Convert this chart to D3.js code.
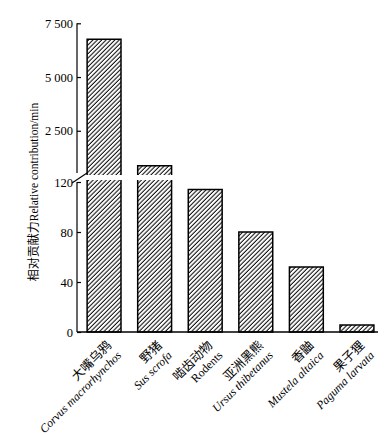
<!DOCTYPE html>
<html>
<head>
<meta charset="utf-8">
<script src="https://cdn.jsdelivr.net/npm/d3@7"></script>
<style>
  html, body { margin: 0; padding: 0; background: #fff; }
  svg { display: block; }
</style>
</head>
<body>
<div id="chart"></div>
<script>
// Données
const speciesCn = ["大嘴乌鸦", "野猪", "啮齿动物", "亚洲黑熊", "香鼬", "果子狸"];
const speciesLatin = ["Corvus macrorhynchos", "Sus scrofa", "Rodents", "Ursus thibetanus", "Mustela altaica", "Paguma larvata"];
const latinItalic = [true, true, false, true, true, true];
const contribution = [6760, 875, 114, 80, 52, 5.6];
const ticksLow = [0, 40, 80, 120];
const ticksHigh = [2500, 5000, 7500];

const width = 390;
const height = 435;
const serif = "'Liberation Serif', 'Times New Roman', serif";
const cjk = "'Noto Sans CJK SC', sans-serif";

const axisX = 77;
const breakTop = 175;     // bas du segment haut
const breakBottom = 180;  // haut du segment bas
const baseY = 332;

const svg = d3.select("#chart")
  .append("svg")
  .attr("width", width)
  .attr("height", height);

// motif hachuré
svg.append("defs")
  .append("pattern")
  .attr("id", "hatch")
  .attr("patternUnits", "userSpaceOnUse")
  .attr("width", 3.1)
  .attr("height", 10)
  .attr("patternTransform", "rotate(45)")
  .append("line")
  .attr("x1", 1).attr("y1", 0)
  .attr("x2", 1).attr("y2", 10)
  .attr("stroke", "#000")
  .attr("stroke-width", 1);

//---------------------------------------------------------------------------------------

// Échelles

const scaleX = d3.scaleBand()
  .domain(d3.range(speciesCn.length))
  .range([axisX, 384])
  .paddingInner(0.33)
  .paddingOuter(0.2);

// segment bas (0 - 120)
const yLow = d3.scaleLinear().domain([0, 120]).range([baseY, 182]);
// segment haut (jusqu'à 7 500)
const yHigh = d3.scaleLinear().domain([0, 7500]).range([184.5, 23.3]);

const fmt = d => d3.format(",")(d).replace(",", " ");

//---------------------------------------------------------------------------------------

// Axes Y

const axisLow = svg.append("g")
  .attr("transform", `translate(${axisX},0)`)
  .call(d3.axisLeft(yLow).tickValues(ticksLow).tickSize(-4).tickPadding(4).tickFormat(fmt));
axisLow.select(".domain").attr("d", `M0,${breakBottom + 2}V${baseY}`);

const axisHigh = svg.append("g")
  .attr("transform", `translate(${axisX},0)`)
  .call(d3.axisLeft(yHigh).tickValues(ticksHigh).tickSize(-4).tickPadding(4).tickFormat(fmt));
axisHigh.select(".domain").attr("d", `M0,${yHigh(7500)}V${breakTop - 2}`);

svg.selectAll(".tick text")
  .attr("font-family", serif)
  .attr("font-size", 12.5)
  .attr("fill", "#000");
svg.selectAll(".tick line, .domain")
  .attr("stroke", "#000")
  .attr("stroke-width", 1.2);

// marque de coupure
svg.append("line")
  .attr("x1", axisX - 5).attr("y1", breakBottom + 3)
  .attr("x2", axisX + 10).attr("y2", breakTop - 2)
  .attr("stroke", "#000")
  .attr("stroke-width", 1.2);

//---------------------------------------------------------------------------------------

// Barres

const bw = scaleX.bandwidth();
const bars = svg.append("g");

contribution.forEach((v, i) => {
  const x = scaleX(i);
  if (v > 120) {
    // partie haute
    bars.append("rect")
      .attr("x", x).attr("y", yHigh(v))
      .attr("width", bw).attr("height", breakTop - yHigh(v))
      .attr("fill", "url(#hatch)");
    bars.append("path")
      .attr("d", `M${x},${breakTop}V${yHigh(v)}H${x + bw}V${breakTop}`)
      .attr("fill", "none").attr("stroke", "#000").attr("stroke-width", 1.5);
    // partie basse
    bars.append("rect")
      .attr("x", x).attr("y", breakBottom)
      .attr("width", bw).attr("height", baseY - breakBottom)
      .attr("fill", "url(#hatch)");
    bars.append("path")
      .attr("d", `M${x},${breakBottom}V${baseY}H${x + bw}V${breakBottom}`)
      .attr("fill", "none").attr("stroke", "#000").attr("stroke-width", 1.5);
  } else {
    bars.append("rect")
      .attr("x", x).attr("y", yLow(v))
      .attr("width", bw).attr("height", baseY - yLow(v))
      .attr("fill", "url(#hatch)")
      .attr("stroke", "#000").attr("stroke-width", 1.5);
  }
});

// Axe X
svg.append("line")
  .attr("x1", axisX).attr("y1", baseY)
  .attr("x2", 378).attr("y2", baseY)
  .attr("stroke", "#000")
  .attr("stroke-width", 1.4);

//---------------------------------------------------------------------------------------

// Étiquettes X (rotation -45°)

const labels = svg.selectAll(".xlab")
  .data(d3.range(speciesCn.length))
  .join("g")
  .attr("class", "xlab")
  .attr("transform", i => `translate(${scaleX(i) + bw / 2 + 18},356) rotate(-45)`);

labels.append("text")
  .attr("y", -14)
  .attr("text-anchor", "end")
  .attr("font-family", cjk)
  .attr("font-size", 12.5)
  .text(i => speciesCn[i]);

labels.append("text")
  .attr("text-anchor", "end")
  .attr("font-family", serif)
  .attr("font-style", i => latinItalic[i] ? "italic" : "normal")
  .attr("font-size", 11.8)
  .text(i => speciesLatin[i]);

// Titre axe Y
const yTitle = svg.append("text")
  .attr("transform", "translate(38,192) rotate(-90)")
  .attr("text-anchor", "middle");
yTitle.append("tspan").attr("font-family", cjk).attr("font-size", 12).text("相对贡献力");
yTitle.append("tspan").attr("font-family", serif).attr("font-size", 11.5).text("Relative contribution/min");
</script>
</body>
</html>
